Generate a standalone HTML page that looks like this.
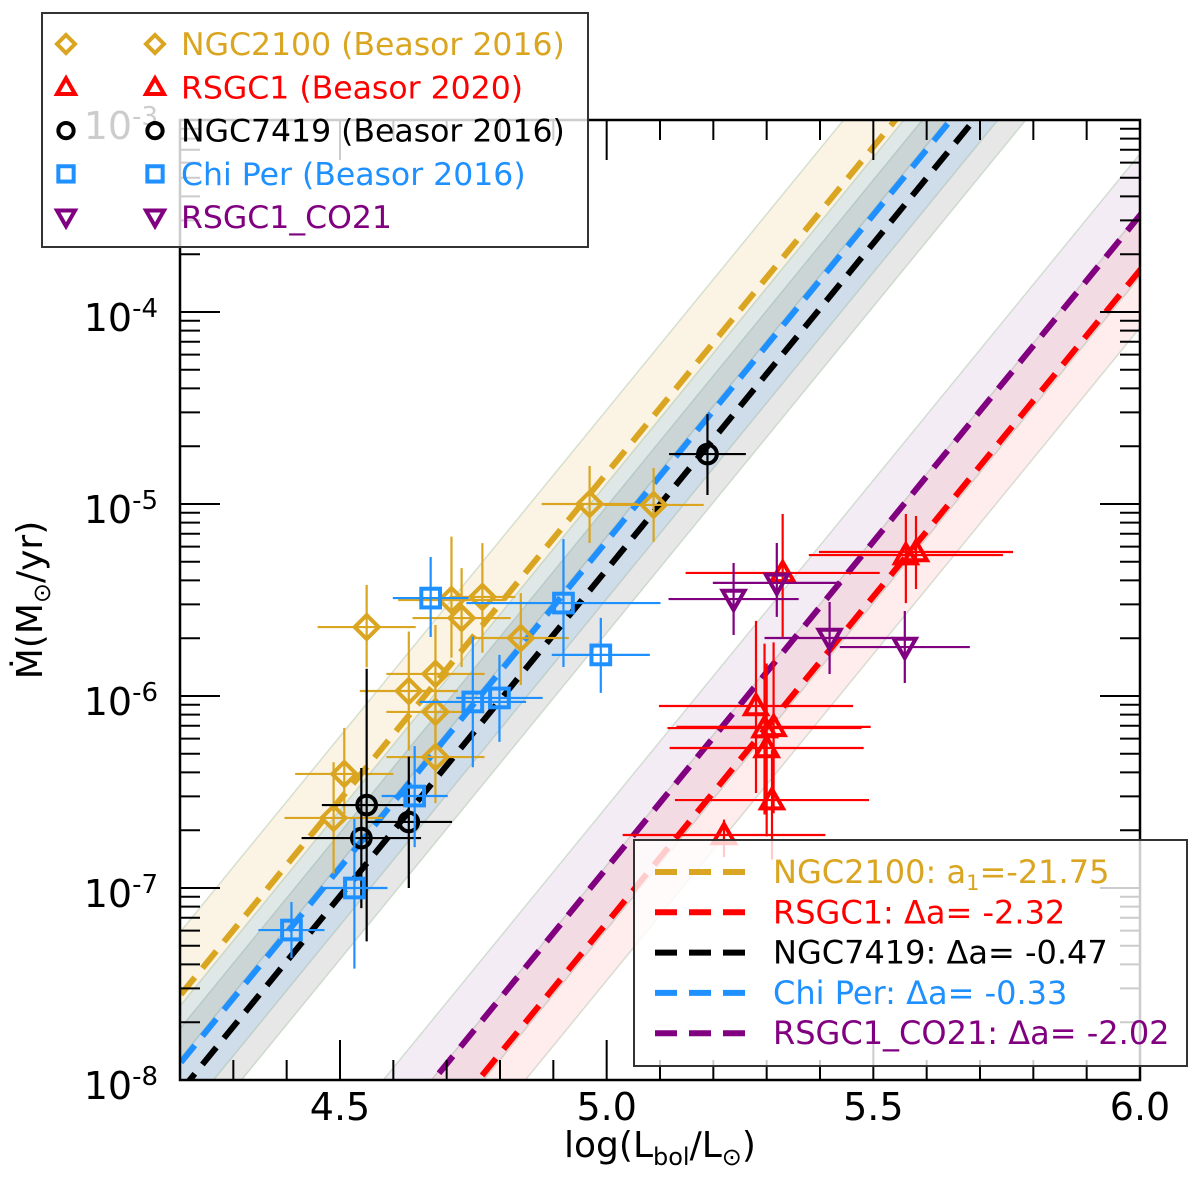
<!DOCTYPE html>
<html><head><meta charset="utf-8">
<style>
html,body{margin:0;padding:0;background:#fff;width:1200px;height:1188px;overflow:hidden;}
svg{display:block;font-family:"DejaVu Sans","Liberation Sans",sans-serif;}
</style></head>
<body>
<svg id="chart" width="1200" height="1188" viewBox="0 0 1200 1188" xmlns="http://www.w3.org/2000/svg">
<defs><clipPath id="plotclip"><rect x="180" y="120" width="960" height="960"/></clipPath></defs>
<g id="bands" clip-path="url(#plotclip)"></g>
<g id="fits" clip-path="url(#plotclip)"></g>
<g id="points"></g>
<g id="axes"></g>
<g id="legends"></g>
</svg>
<script>
// ---- data (log L, log Mdot, x error, y error up, y error down) ----
const goldX = [4.968,5.088,4.550,4.709,4.767,4.728,4.839,4.679,4.629,4.679,4.679,4.508,4.488];
const goldY = [-5.000,-5.005,-5.641,-5.500,-5.484,-5.594,-5.698,-5.885,-5.974,-6.083,-6.318,-6.406,-6.635];
const goldXe = [0.090,0.094,0.092,0.10,0.062,0.092,0.09,0.092,0.092,0.092,0.092,0.092,0.092];
const goldYu = [0.198,0.193,0.22,0.33,0.28,0.26,0.234,0.255,0.31,0.21,0.21,0.24,0.29];
const goldYd = [0.203,0.193,0.21,0.30,0.29,0.255,0.245,0.26,0.31,0.21,0.24,0.21,0.29];

const blueX = [4.670,4.919,4.989,4.749,4.799,4.640,4.527,4.409];
const blueY = [-5.490,-5.516,-5.786,-6.031,-6.010,-6.521,-7.000,-7.219];
const blueXe = [0.071,0.182,0.092,0.10,0.081,0.062,0.062,0.062];
const blueYu = [0.214,0.333,0.193,0.34,0.224,0.26,0.36,0.146];
const blueYd = [0.203,0.333,0.198,0.34,0.229,0.266,0.42,0.146];

const blackX = [5.189,4.550,4.629,4.540];
const blackY = [-4.740,-6.568,-6.656,-6.740];
const blackXe = [0.072,0.084,0.081,0.112];
const blackYu = [0.208,0.71,0.34,0.365];
const blackYd = [0.213,0.71,0.344,0.365];

const redX = [5.330,5.561,5.580,5.280,5.313,5.296,5.300,5.310,5.220];
const redY = [-5.359,-5.266,-5.250,-6.052,-6.161,-6.167,-6.271,-6.542,-6.724];
const redXe = [0.182,0.182,0.182,0.182,0.182,0.182,0.182,0.182,0.19];
const redYu = [0.307,0.214,0.1875,0.443,0.44,0.44,0.44,0.26,0.08];
const redYd = [0.333,0.25,0.193,0.453,0.45,0.45,0.46,0.31,0.115];

const purpX = [5.238,5.319,5.418,5.559];
const purpY = [-5.495,-5.411,-5.698,-5.745];
const purpXe = [0.122,0.12,0.122,0.122];
const purpYu = [0.1875,0.208,0.1875,0.1875];
const purpYd = [0.1875,0.177,0.1875,0.1875];

// fits: log Mdot = intercept + slope*(logL - 5)
const fitNames = ["NGC2100","RSGC1","NGC7419","ChiPer","RSGC1_CO21"];
const fitIntercepts = [-4.84,-7.182,-5.342,-5.194,-6.896];
const fitSlopes = [3.4,3.4,3.4,3.4,3.4];
const fitBandHalf = [0.33,0.3,0.33,0.3,0.32];

const xTicks = [4.5,5.0,5.5,6.0];
const xTickLabels = ["4.5","5.0","5.5","6.0"];
const yDecades = [-8,-7,-6,-5,-4,-3];
const yTickLabels = ["10","10","10","10","10","10"];
const yTickExps = ["-8","-7","-6","-5","-4","-3"];

// ---- axes functions ----
const X0=180, X1=1140, Y0=1080, Y1=120;
const xMin=4.2, xMax=6.0, yMin=-8, yMax=-3;
function xs(v){return X0+(v-xMin)/(xMax-xMin)*(X1-X0);}
function ys(v){return Y0-(v-yMin)/(yMax-yMin)*(Y0-Y1);}
const NS="http://www.w3.org/2000/svg";
function mk(tag,attrs,parent){const e=document.createElementNS(NS,tag);for(const k in attrs)e.setAttribute(k,attrs[k]);parent.appendChild(e);return e;}

const colors=["#DAA520","#FF0000","#000000","#1E90FF","#800080"];
const bandFill=["#DAA520","#FF6060","#707070","#1E90FF","#A060B0"];
const bands=document.getElementById('bands');
const fits=document.getElementById('fits');
for(let i=0;i<fitNames.length;i++){
  const f=v=>fitIntercepts[i]+fitSlopes[i]*(v-5);
  const h=fitBandHalf[i];
  const pts=[[4.0,f(4.0)+h],[6.2,f(6.2)+h],[6.2,f(6.2)-h],[4.0,f(4.0)-h]];
  const p=mk('polygon',{points:pts.map(q=>xs(q[0])+','+ys(q[1])).join(' '),fill:bandFill[i],'fill-opacity':i==2?0.17:0.12,stroke:'#8fb08f','stroke-opacity':0.35,'stroke-width':1.5},bands);
  
  
}
const lineOrder=[0,1,4,3,2];
for(const i of lineOrder){
  const f=v=>fitIntercepts[i]+fitSlopes[i]*(v-5);
  const l=mk('line',{x1:xs(4.0),y1:ys(f(4.0)),x2:xs(6.2),y2:ys(f(6.2)),stroke:colors[i],'stroke-width':6,'stroke-dasharray':'22,12'},fits);
  
  
}

const ptsG=document.getElementById('points');
function marker(type,cx,cy,col,s,g){
  if(type==='diamond'){
    mk('polygon',{points:`${cx},${cy-s} ${cx+s},${cy} ${cx},${cy+s} ${cx-s},${cy}`,fill:'none',stroke:col,'stroke-width':4},g);
  }else if(type==='square'){
    mk('rect',{x:cx-s*0.85,y:cy-s*0.85,width:s*1.7,height:s*1.7,fill:'none',stroke:col,'stroke-width':4},g);
  }else if(type==='circle'){
    mk('circle',{cx:cx,cy:cy,r:s*0.85,fill:'none',stroke:col,'stroke-width':4},g);
  }else if(type==='up'){
    mk('polygon',{points:`${cx},${cy-s} ${cx+s},${cy+s*0.75} ${cx-s},${cy+s*0.75}`,fill:'none',stroke:col,'stroke-width':4},g);
  }else if(type==='down'){
    mk('polygon',{points:`${cx},${cy+s} ${cx+s},${cy-s*0.75} ${cx-s},${cy-s*0.75}`,fill:'none',stroke:col,'stroke-width':4},g);
  }
}
function series(name,X,Y,Xe,Yu,Yd,col,type){
  const g=mk('g',{},ptsG);
  
  
  for(let k=0;k<X.length;k++){
    const p=mk('g',{},g);
    
    
    const cx=xs(X[k]),cy=ys(Y[k]);
    mk('line',{x1:xs(X[k]-Xe[k]),y1:cy,x2:xs(X[k]+Xe[k]),y2:cy,stroke:col,'stroke-width':2.2},p);
    mk('line',{x1:cx,y1:ys(Y[k]+Yu[k]),x2:cx,y2:ys(Y[k]-Yd[k]),stroke:col,'stroke-width':2.2},p);
    marker(type,cx,cy,col,type==='diamond'?12:11,p);
  }
}
series('ngc2100',goldX,goldY,goldXe,goldYu,goldYd,colors[0],'diamond');
series('rsgc1',redX,redY,redXe,redYu,redYd,colors[1],'up');
series('ngc7419',blackX,blackY,blackXe,blackYu,blackYd,colors[2],'circle');
series('chi-per',blueX,blueY,blueXe,blueYu,blueYd,colors[3],'square');
series('rsgc1-co21',purpX,purpY,purpXe,purpYu,purpYd,colors[4],'down');

// ---- axes ----
const ax=document.getElementById('axes');
const frame=mk('rect',{x:X0,y:Y1,width:X1-X0,height:Y0-Y1,fill:'none',stroke:'#000','stroke-width':2.5},ax);


for(let t=Math.round(xMin*10);t<=Math.round(xMax*10);t++){
  const v=t/10, x=xs(v), major=(t%5===0), L=major?40:20;
  mk('line',{x1:x,y1:Y0,x2:x,y2:Y0-L,stroke:'#000','stroke-width':2},ax);
  mk('line',{x1:x,y1:Y1,x2:x,y2:Y1+L,stroke:'#000','stroke-width':2},ax);
}
for(let i=0;i<xTicks.length;i++){
  const t=mk('text',{x:xs(xTicks[i]),y:1120,'font-size':38,'text-anchor':'middle',fill:'#000'},ax);
  t.textContent=xTickLabels[i];
  
  
}
for(let d=yMin; d<yMax; d++){
  for(let m=2;m<=9;m++){
    const y=ys(d+Math.log10(m));
    mk('line',{x1:X0,y1:y,x2:X0+20,y2:y,stroke:'#000','stroke-width':2},ax);
    mk('line',{x1:X1,y1:y,x2:X1-20,y2:y,stroke:'#000','stroke-width':2},ax);
  }
}
for(let i=0;i<yDecades.length;i++){
  const y=ys(yDecades[i]);
  mk('line',{x1:X0,y1:y,x2:X0+40,y2:y,stroke:'#000','stroke-width':2},ax);
  mk('line',{x1:X1,y1:y,x2:X1-40,y2:y,stroke:'#000','stroke-width':2},ax);
  const t=mk('text',{x:158,y:y+19,'font-size':38,'text-anchor':'end',fill:'#000'},ax);
  
  
  const a=mk('tspan',{},t); a.textContent=yTickLabels[i];
  const b=mk('tspan',{'font-size':26,dy:-14},t); b.textContent=yTickExps[i];
}
const xl=mk('text',{x:660,y:1157,'font-size':36,'text-anchor':'middle',fill:'#000'},ax);


xl.innerHTML='log(L<tspan font-size="24" dy="8">bol</tspan><tspan dy="-8">/L</tspan><tspan font-size="24" dy="8">⊙</tspan><tspan dy="-8">)</tspan>';
const yl=mk('text',{x:0,y:0,'font-size':36,'text-anchor':'middle',fill:'#000',transform:'translate(42,600) rotate(-90)'},ax);


yl.innerHTML='Ṁ(M<tspan font-size="24" dy="8">⊙</tspan><tspan dy="-8">/yr)</tspan>';

// ---- legends ----
const lg=document.getElementById('legends');
const leg1=mk('g',{},lg);


mk('rect',{x:42,y:13,width:546,height:234,fill:'#fff','fill-opacity':0.8,stroke:'#333','stroke-width':2},leg1);
const legNames=["NGC2100 (Beasor 2016)","RSGC1 (Beasor 2020)","NGC7419 (Beasor 2016)","Chi Per (Beasor 2016)","RSGC1_CO21"];
const legCols=[colors[0],colors[1],colors[2],colors[3],colors[4]];
const legTypes=['diamond','up','circle','square','down'];
for(let i=0;i<5;i++){
  const y=44+i*43.3;
  const e=mk('g',{},leg1);
  
  
  marker(legTypes[i],66,y,legCols[i],legTypes[i]==='diamond'?9:9,e);
  marker(legTypes[i],155,y,legCols[i],legTypes[i]==='diamond'?9:9,e);
  const t=mk('text',{x:181,y:y+11,'font-size':31.5,fill:legCols[i]},e);
  t.textContent=legNames[i];
}
const leg2=mk('g',{},lg);


mk('rect',{x:634,y:840,width:553,height:226,fill:'#fff','fill-opacity':0.8,stroke:'#333','stroke-width':2},leg2);
const fitLabels=['NGC2100: a<tspan font-size="21" dy="7">1</tspan><tspan dy="-7">=-21.75</tspan>','RSGC1: Δa= -2.32','NGC7419: Δa= -0.47','Chi Per: Δa= -0.33','RSGC1_CO21: Δa= -2.02'];
const fitCols=[colors[0],colors[1],colors[2],colors[3],colors[4]];
for(let i=0;i<5;i++){
  const y=872+i*40.3;
  const e=mk('g',{},leg2);
  
  
  mk('line',{x1:655,y1:y,x2:752,y2:y,stroke:fitCols[i],'stroke-width':6,'stroke-dasharray':'22,12'},e);
  const t=mk('text',{x:773,y:y+11,'font-size':32,fill:fitCols[i]},e);
  t.innerHTML=fitLabels[i];
}
</script>
</body></html>
